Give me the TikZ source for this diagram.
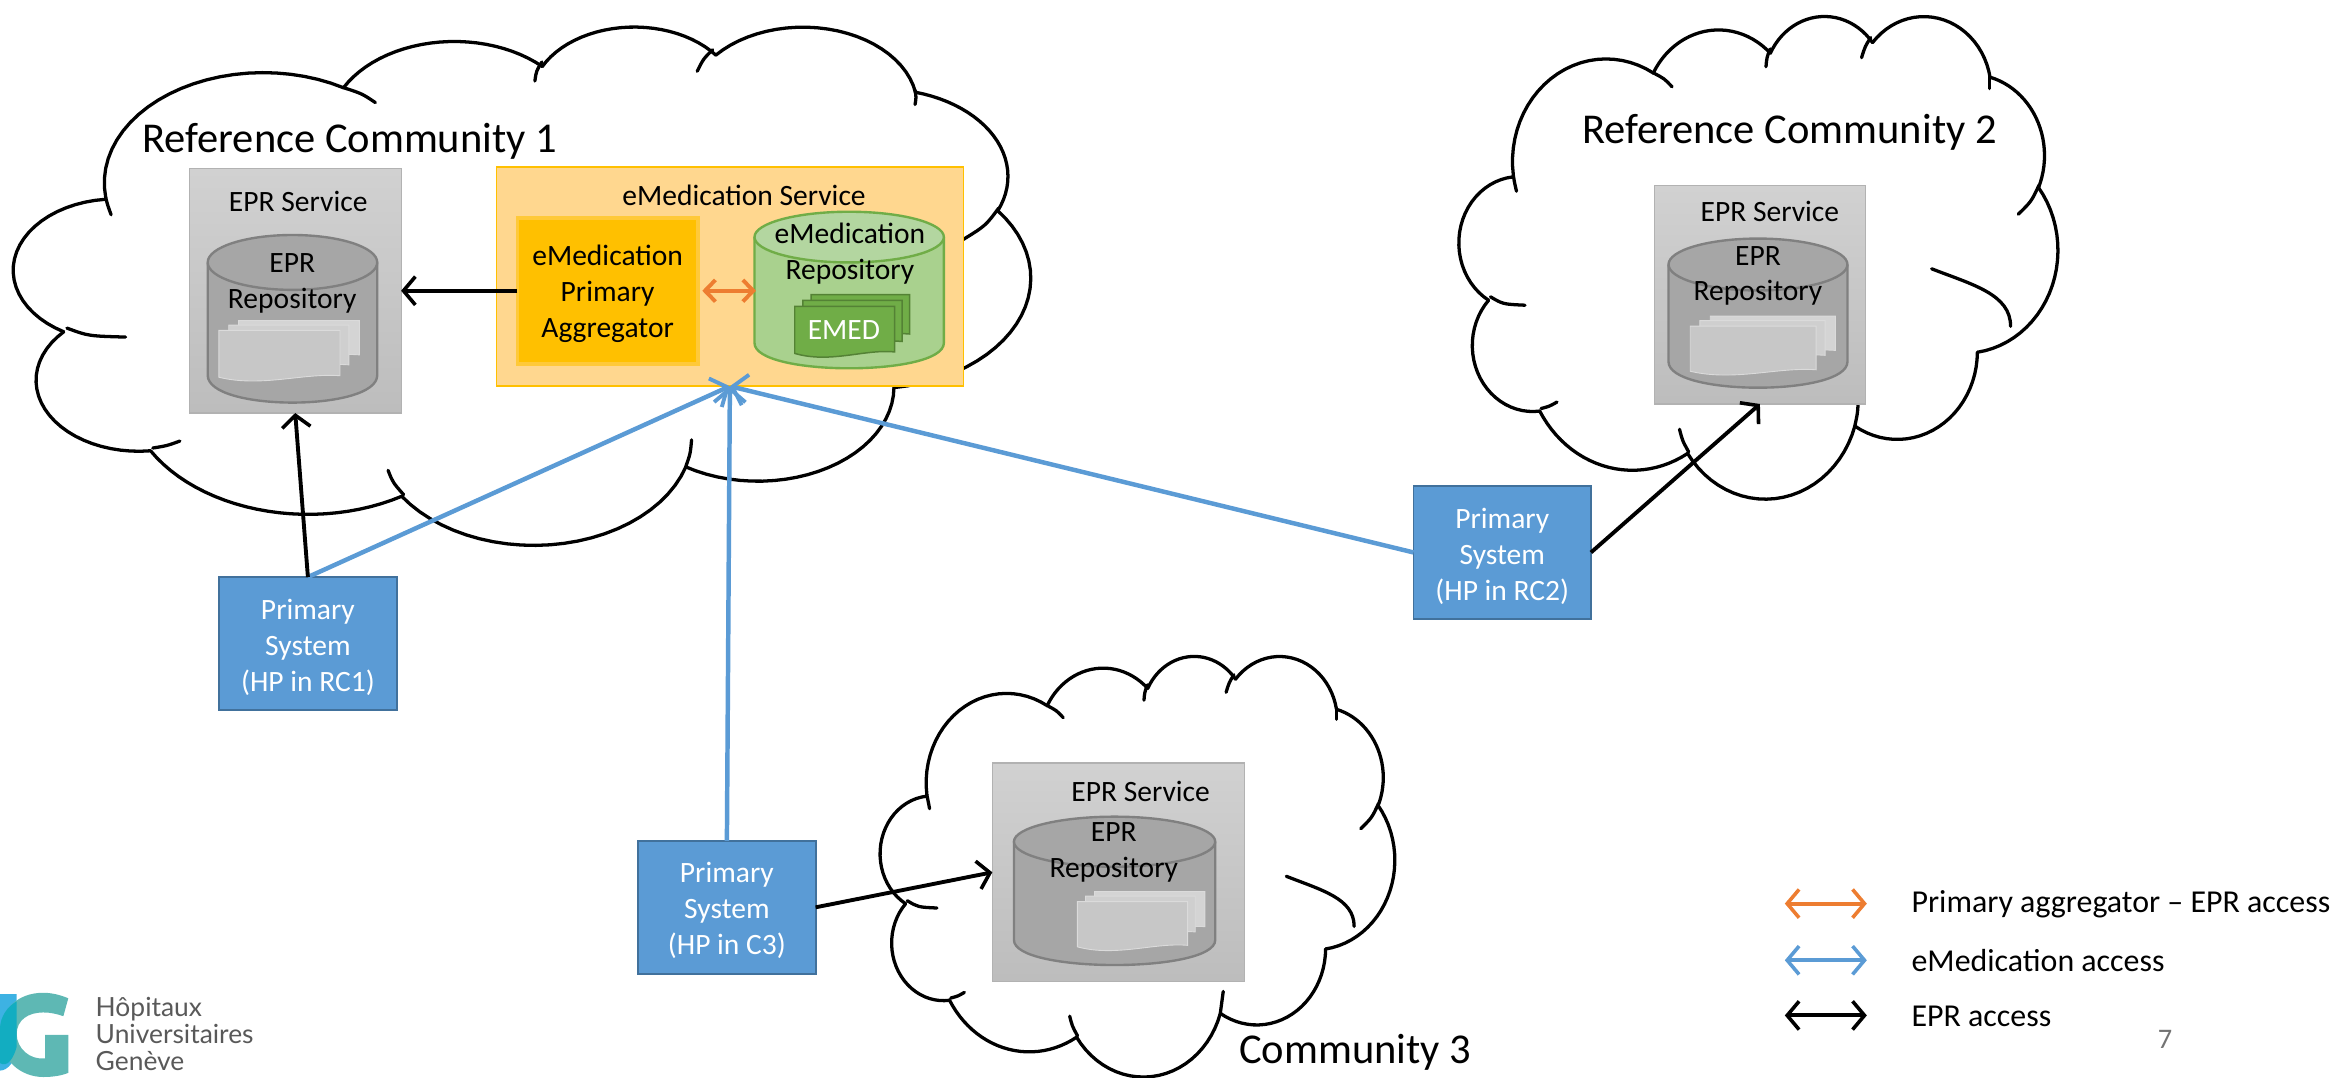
\documentclass[tikz,border=0pt]{standalone}
\usepackage{fontspec}
\setmainfont{Carlito}
\newfontfamily\logofont{Lato}
\usetikzlibrary{arrows.meta}
\definecolor{cblue}{HTML}{5B9BD5}
\definecolor{cblueb}{HTML}{41719C}
\definecolor{corange}{HTML}{ED7D31}
\definecolor{cgold}{HTML}{FFC000}
\definecolor{cgoldl}{HTML}{FFD78F}
\definecolor{cgreen}{HTML}{70AD47}
\definecolor{cgreend}{HTML}{548235}
\definecolor{cgreenl}{HTML}{A9D18E}
\definecolor{cgreent}{HTML}{B3D6A0}
\definecolor{logoteal}{HTML}{5EB8B4}
\definecolor{logoblue}{HTML}{3DB2E3}
\definecolor{logomix}{HTML}{12ADC1}
\tikzset{
  cloudln/.style={line width=2.2pt,black,line cap=round,line join=round},
  svcbox/.style={draw=black!30,line width=0.8pt,top color=black!18,bottom color=black!26,inner sep=0pt,outer sep=0pt},
  psbox/.style={draw=cblueb,line width=1.2pt,fill=cblue,inner sep=0pt,outer sep=0pt,minimum width=119pt,minimum height=89pt},
  lbl/.style={inner sep=0pt,outer sep=0pt,align=center,font=\fontsize{19.8}{24}\selectfont},
  biglbl/.style={inner sep=0pt,outer sep=0pt,font=\fontsize{28.5}{30}\selectfont},
  leglbl/.style={inner sep=0pt,outer sep=0pt,anchor=west,font=\fontsize{21.4}{24}\selectfont},
  arr/.style={line width=2.6pt,-{Straight Barb[length=8pt,width=19pt,line width=2.4pt]}},
  barr/.style={line width=3pt,-{Straight Barb[length=9pt,width=21pt,line width=2.6pt]}},
  darr/.style={line width=2.6pt,{Straight Barb[length=8pt,width=19pt,line width=2.4pt]}-{Straight Barb[length=8pt,width=19pt,line width=2.4pt]}},
  oarr/.style={line width=2.8pt,{Straight Barb[length=7pt,width=14.5pt,line width=2.6pt]}-{Straight Barb[length=7pt,width=14.5pt,line width=2.6pt]}},
  docw/.style={fill=black!22,draw=black!14,line width=0.6pt},
}
\newcommand\cloudarc[4]{%
  \pgfmathsetmacro\tA{atan2(#1*sin(#3),#2*cos(#3))}%
  \pgfmathsetmacro\tB{atan2(#1*sin(#3+#4),#2*cos(#3+#4))}%
  \pgfmathsetmacro\tB{\tB<\tA?\tB+360:\tB}%
  \pgfmathsetmacro\cxx{\curx-#1*cos(\tA)}%
  \pgfmathsetmacro\cyy{\cury-#2*sin(\tA)}%
  \draw[cloudln] plot[variable=\t,domain=\tA:\tB,samples=26] ({\ox+\sx*(\cxx+#1*cos(\t))},{\oy+\sy*(\cyy+#2*sin(\t))});%
  \pgfmathsetmacro\curx{\cxx+#1*cos(\tB)}%
  \pgfmathsetmacro\cury{\cyy+#2*sin(\tB)}%
}
\newcommand\ctick[6]{\draw[cloudln] ({\ox+\sx*#1},{\oy+\sy*#2}) .. controls ({\ox+\sx*#3},{\oy+\sy*#4}) .. ({\ox+\sx*#5},{\oy+\sy*#6});}
\newcommand\drawcloud[4]{%
  \pgfmathsetmacro\ox{#1}\pgfmathsetmacro\oy{#2}%
  \pgfmathsetmacro\sx{#3/432}\pgfmathsetmacro\sy{#4/432}%
  \def\curx{39}\def\cury{143.7}%
  \cloudarc{67.53}{91.90}{-190.4875}{123.7805}%
  \cloudarc{53.33}{72.67}{-144.1024}{89.9452}%
  \cloudarc{43.65}{59.45}{-145.8079}{99.7230}%
  \cloudarc{48.57}{65.95}{-130.9861}{117.2417}%
  \cloudarc{53.33}{72.73}{-78.7089}{109.0269}%
  \cloudarc{67.75}{92.20}{-46.2673}{130.2690}%
  \cloudarc{57.85}{78.67}{0.6250}{114.0333}%
  \cloudarc{67.52}{92.15}{22.4516}{115.1726}%
  \cloudarc{77.20}{105.43}{66.2426}{75.7110}%
  \cloudarc{43.60}{59.18}{-274.9421}{146.7356}%
  \cloudarc{43.45}{59.45}{-246.8285}{152.5189}%
  \ctick{41.27}{157.89}{39.8}{150}{39}{143.7}%
  \ctick{140}{51.9}{148}{57}{153.6}{64.4}%
  \ctick{224.4}{30.5}{222}{38}{221.4}{46.4}%
  \ctick{297}{20.3}{293}{28}{290.4}{38.3}%
  \ctick{383}{54}{383.5}{60}{383}{66}%
  \ctick{418.5}{152.5}{413}{167}{403.5}{178.5}%
  \draw[cloudln] ({\ox+\sx*341},{\oy+\sy*227.3}) .. controls ({\ox+\sx*370.6},{\oy+\sy*241.6}) and ({\ox+\sx*398},{\oy+\sy*250}) .. ({\ox+\sx*398},{\oy+\sy*278.8});%
  \ctick{288}{345.6}{287.5}{357}{285.6}{367.6}%
  \ctick{159}{371}{161}{381}{165.6}{391.3}%
  \ctick{70.5}{346.6}{65}{350.5}{59}{352.4}%
  \ctick{47.4}{259.9}{31.5}{259}{22.5}{252.4}%
}
% cylinder: x1 y1 x2 y2 ry fill stroke topfill
\newcommand\cyl[8]{%
  \draw[fill=#6,draw=#7,line width=1.6pt] (#1,#2+#5) -- (#1,#4-#5) .. controls ({#1},{#4+#5/3}) and ({#3},{#4+#5/3}) .. (#3,#4-#5) -- (#3,#2+#5);%
  \pgfmathsetmacro\ex{(#3-#1)/2}%
  \draw[fill=#8,draw=#7,line width=1.6pt] ({(#1+#3)/2},#2+#5) ellipse[x radius=\ex,y radius=#5];%
}
% document: x1 y1 x2 y2 style
\newcommand\docpage[5]{\draw[#5] (#1,#2) -- (#3,#2) -- (#3,{#4-2}) .. controls ({#3-0.3*(#3-#1)},{#4-4}) and ({#1+0.35*(#3-#1)},{#4+6}) .. (#1,{#4-1}) -- cycle;}
\begin{document}
\begin{tikzpicture}[x=1pt,y=-1pt]
\useasboundingbox (0,0) rectangle (1568,722.3);
% clouds
\drawcloud{9.4}{17}{681.6}{347.5}
\drawcloud{978.7}{10}{401.3}{323.6}
\drawcloud{590.5}{439.3}{344.8}{282}
% EPR service 1
\node[svcbox,minimum width=142pt,minimum height=164pt] (epr1) at (198,195) {};
\node[lbl] (epr1t) at (200,135) {EPR Service};
\cyl{139.3}{157.6}{253}{270}{18.4}{black!35}{black!50}{black!35}
\docpage{160}{215}{241}{240}{docw,fill=black!17}
\docpage{153.4}{218}{234}{246.7}{docw,fill=black!19}
\docpage{146.8}{221.6}{228}{254}{docw}
\node[lbl] (epr1r) at (196,190) {EPR\\Repository};
% eMedication service
\node[draw=cgold,line width=1pt,fill=cgoldl,inner sep=0pt,outer sep=0pt,minimum width=313pt,minimum height=147pt] (emed) at (489.5,185.5) {};
\node[lbl] (emedt) at (499,131) {eMedication Service};
\node[draw=cgold!60!cgoldl,line width=2.5pt,fill=cgold,inner sep=0pt,outer sep=0pt,minimum width=121pt,minimum height=98pt] (agg) at (407.5,195) {};
\node[lbl] (aggt) at (407.5,197) {eMedication\\Primary\\Aggregator};
\cyl{506}{142}{633}{247}{17}{cgreenl}{cgreen}{cgreent}
\coordinate (gcw) at (507,195);
\docpage{544}{197.6}{610}{226}{fill=cgreen,draw=cgreend,line width=1pt}
\docpage{538.5}{201.5}{605}{231}{fill=cgreen,draw=cgreend,line width=1pt}
\docpage{533}{205.5}{600}{238}{fill=cgreen,draw=cgreend,line width=1pt}
\node[lbl] (gcr) at (570,170) {eMedication\\Repository};
\node[lbl,text=white] (emedd) at (566,221.5) {EMED};
% EPR service 2
\node[svcbox,minimum width=141.4pt,minimum height=146.5pt] (epr2) at (1180.3,197.7) {};
\node[lbl] (epr2t) at (1187,142) {EPR Service};
\cyl{1119}{160}{1239}{260}{17.4}{black!35}{black!50}{black!35}
\docpage{1147}{212}{1231}{237}{docw,fill=black!17}
\docpage{1140}{215}{1224}{240.3}{docw,fill=black!19}
\docpage{1133.6}{218.7}{1218}{250}{docw}
\node[lbl] (epr2r) at (1179,185) {EPR\\Repository};
% EPR service 3
\node[svcbox,minimum width=169pt,minimum height=146.7pt] (epr3) at (750,585) {};
\node[lbl] (epr3t) at (765,531) {EPR Service};
\cyl{680}{547.7}{815}{647.2}{16.8}{black!35}{black!50}{black!35}
\docpage{734}{598}{808}{623.5}{docw,fill=black!17}
\docpage{728}{601}{801.6}{627}{docw,fill=black!19}
\docpage{722.5}{604.7}{796.5}{636}{docw}
\node[lbl] (epr3r) at (747,571.5) {EPR\\Repository};
% titles
\node[biglbl,anchor=west] (t1) at (95.5,94.5) {Reference Community 1};
\node[biglbl,anchor=west] (t2) at (1061,88.5) {Reference Community 2};
\node[biglbl,anchor=west] (t3) at (831,705.5) {Community 3};
% primary systems
\node[psbox] (p1) at (206.5,431.5) {};
\node[psbox] (p2) at (1007.5,370.5) {};
\node[psbox] (p3) at (487.5,608.5) {};
\node[lbl,text=white] (p1t) at (206.5,434) {Primary\\System\\(HP in RC1)};
\node[lbl,text=white] (p2t) at (1007.5,373) {Primary\\System\\(HP in RC2)};
\node[lbl,text=white] (p3t) at (487.5,610.5) {Primary\\System\\(HP in C3)};
% connectors
\draw[barr,cblue] (p1.north) -- (emed.south);
\draw[barr,cblue] (p3.north) -- (emed.south);
\draw[barr,cblue] (p2.west) -- (emed.south);
\draw[arr,black] (p1.north) -- (epr1.south);
\draw[arr,black] (p2.east) -- (epr2.south);
\draw[arr,black] (p3.east) -- (epr3.west);
\draw[arr,black] (agg.west) -- (epr1.east);
\draw[oarr,corange,shorten <=3pt] (agg.east) -- (gcw);
% legend
\coordinate (l1a) at (1197,606); \coordinate (l1b) at (1252,606);
\coordinate (l2a) at (1197,644); \coordinate (l2b) at (1252,644);
\coordinate (l3a) at (1197,681); \coordinate (l3b) at (1252,681);
\draw[darr,corange] (l1a) -- (l1b);
\draw[darr,cblue] (l2a) -- (l2b);
\draw[darr,black] (l3a) -- (l3b);
\node[leglbl] (lt1) at (1282,606.5) {Primary aggregator – EPR access};
\node[leglbl] (lt2) at (1282,644.5) {eMedication access};
\node[leglbl] (lt3) at (1282,681.5) {EPR access};
\node[inner sep=0pt,text=black!55,font=\fontsize{19}{20}\selectfont] (pg) at (1452,697) {7};
% logo
\begin{scope}
\clip (0,660) rectangle (60,722.3);
\fill[fill=logoblue] (0,666.7) -- (11.2,666.7) -- (11.2,700) .. controls (11.2,712) and (5,718) .. (0,718) -- cycle;
\fill[fill=logoteal] (45.8,669.5) .. controls (40,667) and (34,665.8) .. (29,665.8) .. controls (12,665.8) and (0,677) .. (0,693) .. controls (0,711) and (14,722.3) .. (29,722.3) .. controls (35,722.3) and (41,721.5) .. (45.8,719.5) -- (45.8,694) -- (30.2,694) -- (30.2,709.8) .. controls (20,711) and (11.2,703) .. (11.2,693.5) .. controls (11.2,684) and (19,679) .. (29,679) .. controls (34,679) and (38,680) .. (42.5,681.5) -- cycle;
\fill[fill=logomix] (11.2,671.5) .. controls (5,675) and (0,682) .. (0,690) -- (0,713) .. controls (5,716) and (9,710) .. (11.2,702) -- (11.2,693.5) -- cycle;
\end{scope}
\node[inner sep=0pt,anchor=base west,text=black!65,font=\logofont\fontsize{17.7}{20}\selectfont] (lg1) at (64,682) {Hôpitaux};
\node[inner sep=0pt,anchor=base west,text=black!65,font=\logofont\fontsize{17.7}{20}\selectfont] (lg2) at (64,700) {Universitaires};
\node[inner sep=0pt,anchor=base west,text=black!65,font=\logofont\fontsize{17.7}{20}\selectfont] (lg3) at (64,718) {Genève};
\end{tikzpicture}
\end{document}
